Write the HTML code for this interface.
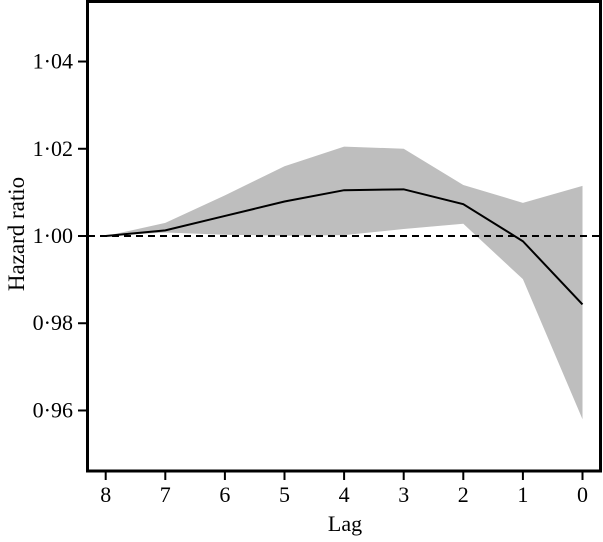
<!DOCTYPE html>
<html><head><meta charset="utf-8"><style>
body{margin:0;background:#fff;}
svg text{font-family:"Liberation Serif",serif;fill:#000;}
</style></head><body>
<svg id="chart" width="603" height="537" xmlns="http://www.w3.org/2000/svg">
<g id="plot"></g>
<rect x="87.5" y="1.5" width="513" height="469.5" fill="none" stroke="#000" stroke-width="3"/>
<text x="345" y="531" font-size="22" text-anchor="middle">Lag</text>
<text transform="translate(24,234) rotate(-90)" font-size="23" text-anchor="middle">Hazard ratio</text>
</svg>
<script>
const lags=[8,7,6,5,4,3,2,1,0];
const hr=[1.000,1.0013,1.0046,1.0079,1.0105,1.0107,1.0073,0.9988,0.9843];
const upper=[1.000,1.003,1.0093,1.016,1.0205,1.020,1.0117,1.0076,1.0115];
const lower=[1.000,1.0008,1.0003,1.0001,1.0002,1.0016,1.0028,0.9901,0.958];
const yTicks=[1.04,1.02,1.00,0.98,0.96];
const yTickLabels=["1·04","1·02","1·00","0·98","0·96"];
const xTicks=[8,7,6,5,4,3,2,1,0];
const x=v=>582.5-v*59.6;
const y=v=>236-(v-1)*4362;
const NS="http://www.w3.org/2000/svg";
const g=document.getElementById('plot');
function mk(t,a){const e=document.createElementNS(NS,t);for(const k in a)e.setAttribute(k,a[k]);g.appendChild(e);return e;}
let pts=lags.map((l,i)=>x(l)+','+y(upper[i]));
for(let i=lags.length-1;i>=0;i--)pts.push(x(lags[i])+','+y(lower[i]));
const band=mk('polygon',{points:pts.join(' '),fill:'#bebebe'});


const ref=mk('line',{x1:88,x2:600,y1:y(1),y2:y(1),stroke:'#000','stroke-width':2,'stroke-dasharray':'7,5'});


const line=mk('polyline',{points:lags.map((l,i)=>x(l)+','+y(hr[i])).join(' '),fill:'none',stroke:'#000','stroke-width':2});


yTicks.forEach((v,i)=>{
 const t=mk('line',{x1:78,x2:88,y1:y(v),y2:y(v),stroke:'#000','stroke-width':2});
 
 
 const tx=mk('text',{x:73,y:y(v)+7,'font-size':22,'text-anchor':'end'});
 tx.textContent=yTickLabels[i];
 
 
});
xTicks.forEach(v=>{
 const t=mk('line',{x1:x(v),x2:x(v),y1:471,y2:480,stroke:'#000','stroke-width':2});
 
 
 const tx=mk('text',{x:x(v),y:502,'font-size':22,'text-anchor':'middle'});
 tx.textContent=v;
 
 
});
</script>
</body></html>
